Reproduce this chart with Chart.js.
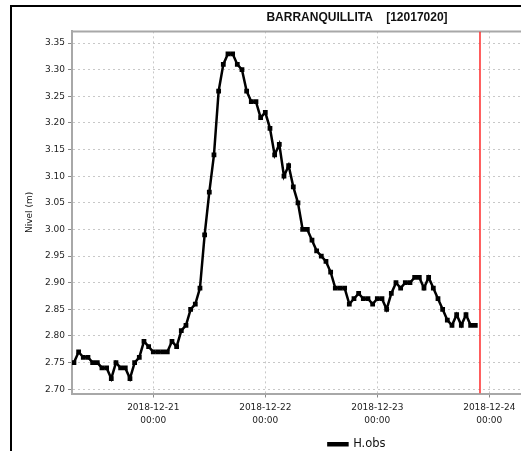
<!DOCTYPE html>
<html>
<head>
<meta charset="utf-8">
<script src="https://cdn.jsdelivr.net/npm/chart.js@4.4.1/dist/chart.umd.min.js"></script>
<style>
  html, body { margin: 0; padding: 0; background: #fff; overflow: hidden; width: 521px; height: 451px; }
  #frame { position: absolute; left: 10px; top: 5px; width: 700px; height: 600px; border: 2px solid #000; }
  #chart { position: absolute; left: 0; top: 0; }
</style>
</head>
<body>
<div id="frame"></div>
<canvas id="chart" width="700" height="460"></canvas>
<script>
// hours counted from 2018-12-21 00:00, first reading at 2018-12-20 07:00
const firstHour = -17;
const levels = [
  2.75, 2.77, 2.76, 2.76, 2.75, 2.75, 2.74, 2.74, 2.72, 2.75,
  2.74, 2.74, 2.72, 2.75, 2.76, 2.79, 2.78, 2.77, 2.77, 2.77,
  2.77, 2.79, 2.78, 2.81, 2.82, 2.85, 2.86, 2.89, 2.99, 3.07,
  3.14, 3.26, 3.31, 3.33, 3.33, 3.31, 3.30, 3.26, 3.24, 3.24,
  3.21, 3.22, 3.19, 3.14, 3.16, 3.10, 3.12, 3.08, 3.05, 3.00,
  3.00, 2.98, 2.96, 2.95, 2.94, 2.92, 2.89, 2.89, 2.89, 2.86,
  2.87, 2.88, 2.87, 2.87, 2.86, 2.87, 2.87, 2.85, 2.88, 2.90,
  2.89, 2.90, 2.90, 2.91, 2.91, 2.89, 2.91, 2.89, 2.87, 2.85,
  2.83, 2.82, 2.84, 2.82, 2.84, 2.82, 2.82
];
const nowHour = 70; // 2018-12-23 22:00

const yTicks = [2.70, 2.75, 2.80, 2.85, 2.90, 2.95, 3.00, 3.05, 3.10, 3.15, 3.20, 3.25, 3.30, 3.35];
const xTickHours = [0, 24, 48, 72, 96];
const xTickLabels = [
  ['2018-12-21', '00:00'],
  ['2018-12-22', '00:00'],
  ['2018-12-23', '00:00'],
  ['2018-12-24', '00:00'],
  ['2018-12-25', '00:00']
];

const yMin = 2.692, yMax = 3.372;
const xMin = -17.42, xMax = 115;

const obsPoints = levels.map((v, i) => ({ x: firstHour + i, y: v }));

const areaBorder = {
  id: 'areaBorder',
  beforeDatasetsDraw(chart) {
    const a = chart.chartArea, ctx = chart.ctx;
    ctx.save();
    ctx.strokeStyle = '#a8a8a8';
    ctx.lineWidth = 2;
    ctx.beginPath();
    ctx.moveTo(a.left, a.top);
    ctx.lineTo(a.right, a.top);
    ctx.lineTo(a.right, a.bottom);
    ctx.stroke();
    ctx.restore();
  }
};

new Chart(document.getElementById('chart'), {
  type: 'line',
  data: {
    datasets: [{
      label: 'H.obs',
      data: obsPoints,
      borderColor: '#000',
      backgroundColor: '#000',
      borderWidth: 2.5,
      pointStyle: 'rect',
      pointRadius: 1.6,
      pointBackgroundColor: '#000',
      pointBorderColor: '#000',
      tension: 0
    }, {
      label: 'now',
      data: [{ x: nowHour, y: yMin }, { x: nowHour, y: yMax }],
      borderColor: '#ff2a2a',
      borderWidth: 1.5,
      pointRadius: 0
    }]
  },
  options: {
    responsive: false,
    animation: false,
    layout: { padding: { left: 24, right: 10, top: 8, bottom: 0 } },
    plugins: {
      title: {
        display: true,
        text: 'BARRANQUILLITA    [12017020]',
        color: '#111',
        font: { family: 'Liberation Sans', size: 12, weight: 'bold' },
        padding: { top: 2, bottom: 7 }
      },
      legend: {
        position: 'bottom',
        labels: {
          filter: item => item.text === 'H.obs',
          color: '#111',
          boxWidth: 19,
          boxHeight: 2,
          padding: 3,
          font: { family: 'DejaVu Sans', size: 11.5 }
        }
      },
      tooltip: { enabled: false }
    },
    scales: {
      x: {
        type: 'linear',
        min: xMin,
        max: xMax,
        afterBuildTicks: s => { s.ticks = xTickHours.map(v => ({ value: v })); },
        afterFit: s => { s.height = 42; },
        ticks: {
          color: '#222',
          padding: 4,
          maxRotation: 0,
          font: { family: 'DejaVu Sans', size: 9, lineHeight: 1.4 },
          callback: v => xTickLabels[xTickHours.indexOf(v)]
        },
        grid: { color: '#c8c8c8', tickColor: '#888', tickLength: 4 },
        border: { color: '#a8a8a8', width: 2, dash: [2, 3] }
      },
      y: {
        min: yMin,
        max: yMax,
        afterBuildTicks: s => { s.ticks = yTicks.map(v => ({ value: v })); },
        afterFit: s => { s.width = 48; },
        title: {
          display: true,
          text: 'Nivel (m)',
          color: '#111',
          padding: { top: 0, bottom: 0 },
          font: { family: 'DejaVu Sans', size: 9 }
        },
        ticks: {
          color: '#222',
          padding: 3,
          font: { family: 'DejaVu Sans', size: 9 },
          callback: v => v.toFixed(2)
        },
        grid: { color: '#c8c8c8', tickColor: '#888', tickLength: 4 },
        border: { color: '#a8a8a8', width: 2, dash: [2, 3] }
      }
    }
  },
  plugins: [areaBorder]
});
</script>
</body>
</html>
